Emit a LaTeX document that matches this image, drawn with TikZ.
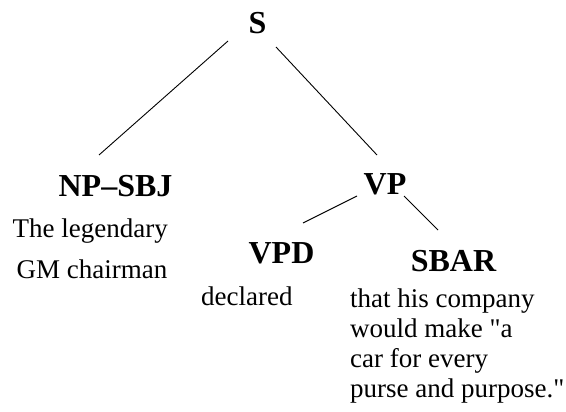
\documentclass[tikz,border=0pt]{standalone}
\usepackage{fontspec}
\setmainfont{Liberation Serif}[Ligatures=TeXOff]
\begin{document}
\begin{tikzpicture}[x=1pt,y=-1pt,
  lab/.style={font=\fontsize{32}{32}\selectfont\bfseries, inner sep=0pt, anchor=base},
  wrd/.style={font=\fontsize{27}{30}\selectfont, inner sep=0pt, anchor=base west},
  edge/.style={line width=0.9pt, black}]
\path[use as bounding box, fill=white] (0,0) rectangle (566,412);
% category labels
\node[lab] (S) at (257.5,33.5) {S};
\node[lab] (NP) at (115.5,196.5) {NP\textendash SBJ};
\node[lab] (VP) at (385,195) {VP};
\node[lab] (VPD) at (281.5,263.5) {VPD};
\node[lab] (SBAR) at (453.5,271) {SBAR};
% words
\node[wrd] (w1) at (12.5,237) {The legendary};
\node[wrd] (w2) at (16.5,278) {GM chairman};
\node[wrd] (w3) at (201,305.5) {declared};
\node[wrd] (w4) at (350,307) {that his company};
\node[wrd] (w5) at (350,337) {would make "a};
\node[wrd] (w6) at (350,367) {car for every};
\node[wrd] (w7) at (350,397) {purse and purpose."};
% connector ends
\coordinate (s-l) at (228,41);
\coordinate (np-t) at (99,155);
\coordinate (s-r) at (276,47);
\coordinate (vp-t) at (377,155);
\coordinate (vp-l) at (357,196);
\coordinate (vpd-t) at (303,223);
\coordinate (vp-r) at (404,196);
\coordinate (sbar-t) at (438,230);
\draw[edge] (s-l) -- (np-t);
\draw[edge] (s-r) -- (vp-t);
\draw[edge] (vp-l) -- (vpd-t);
\draw[edge] (vp-r) -- (sbar-t);
\end{tikzpicture}
\end{document}
